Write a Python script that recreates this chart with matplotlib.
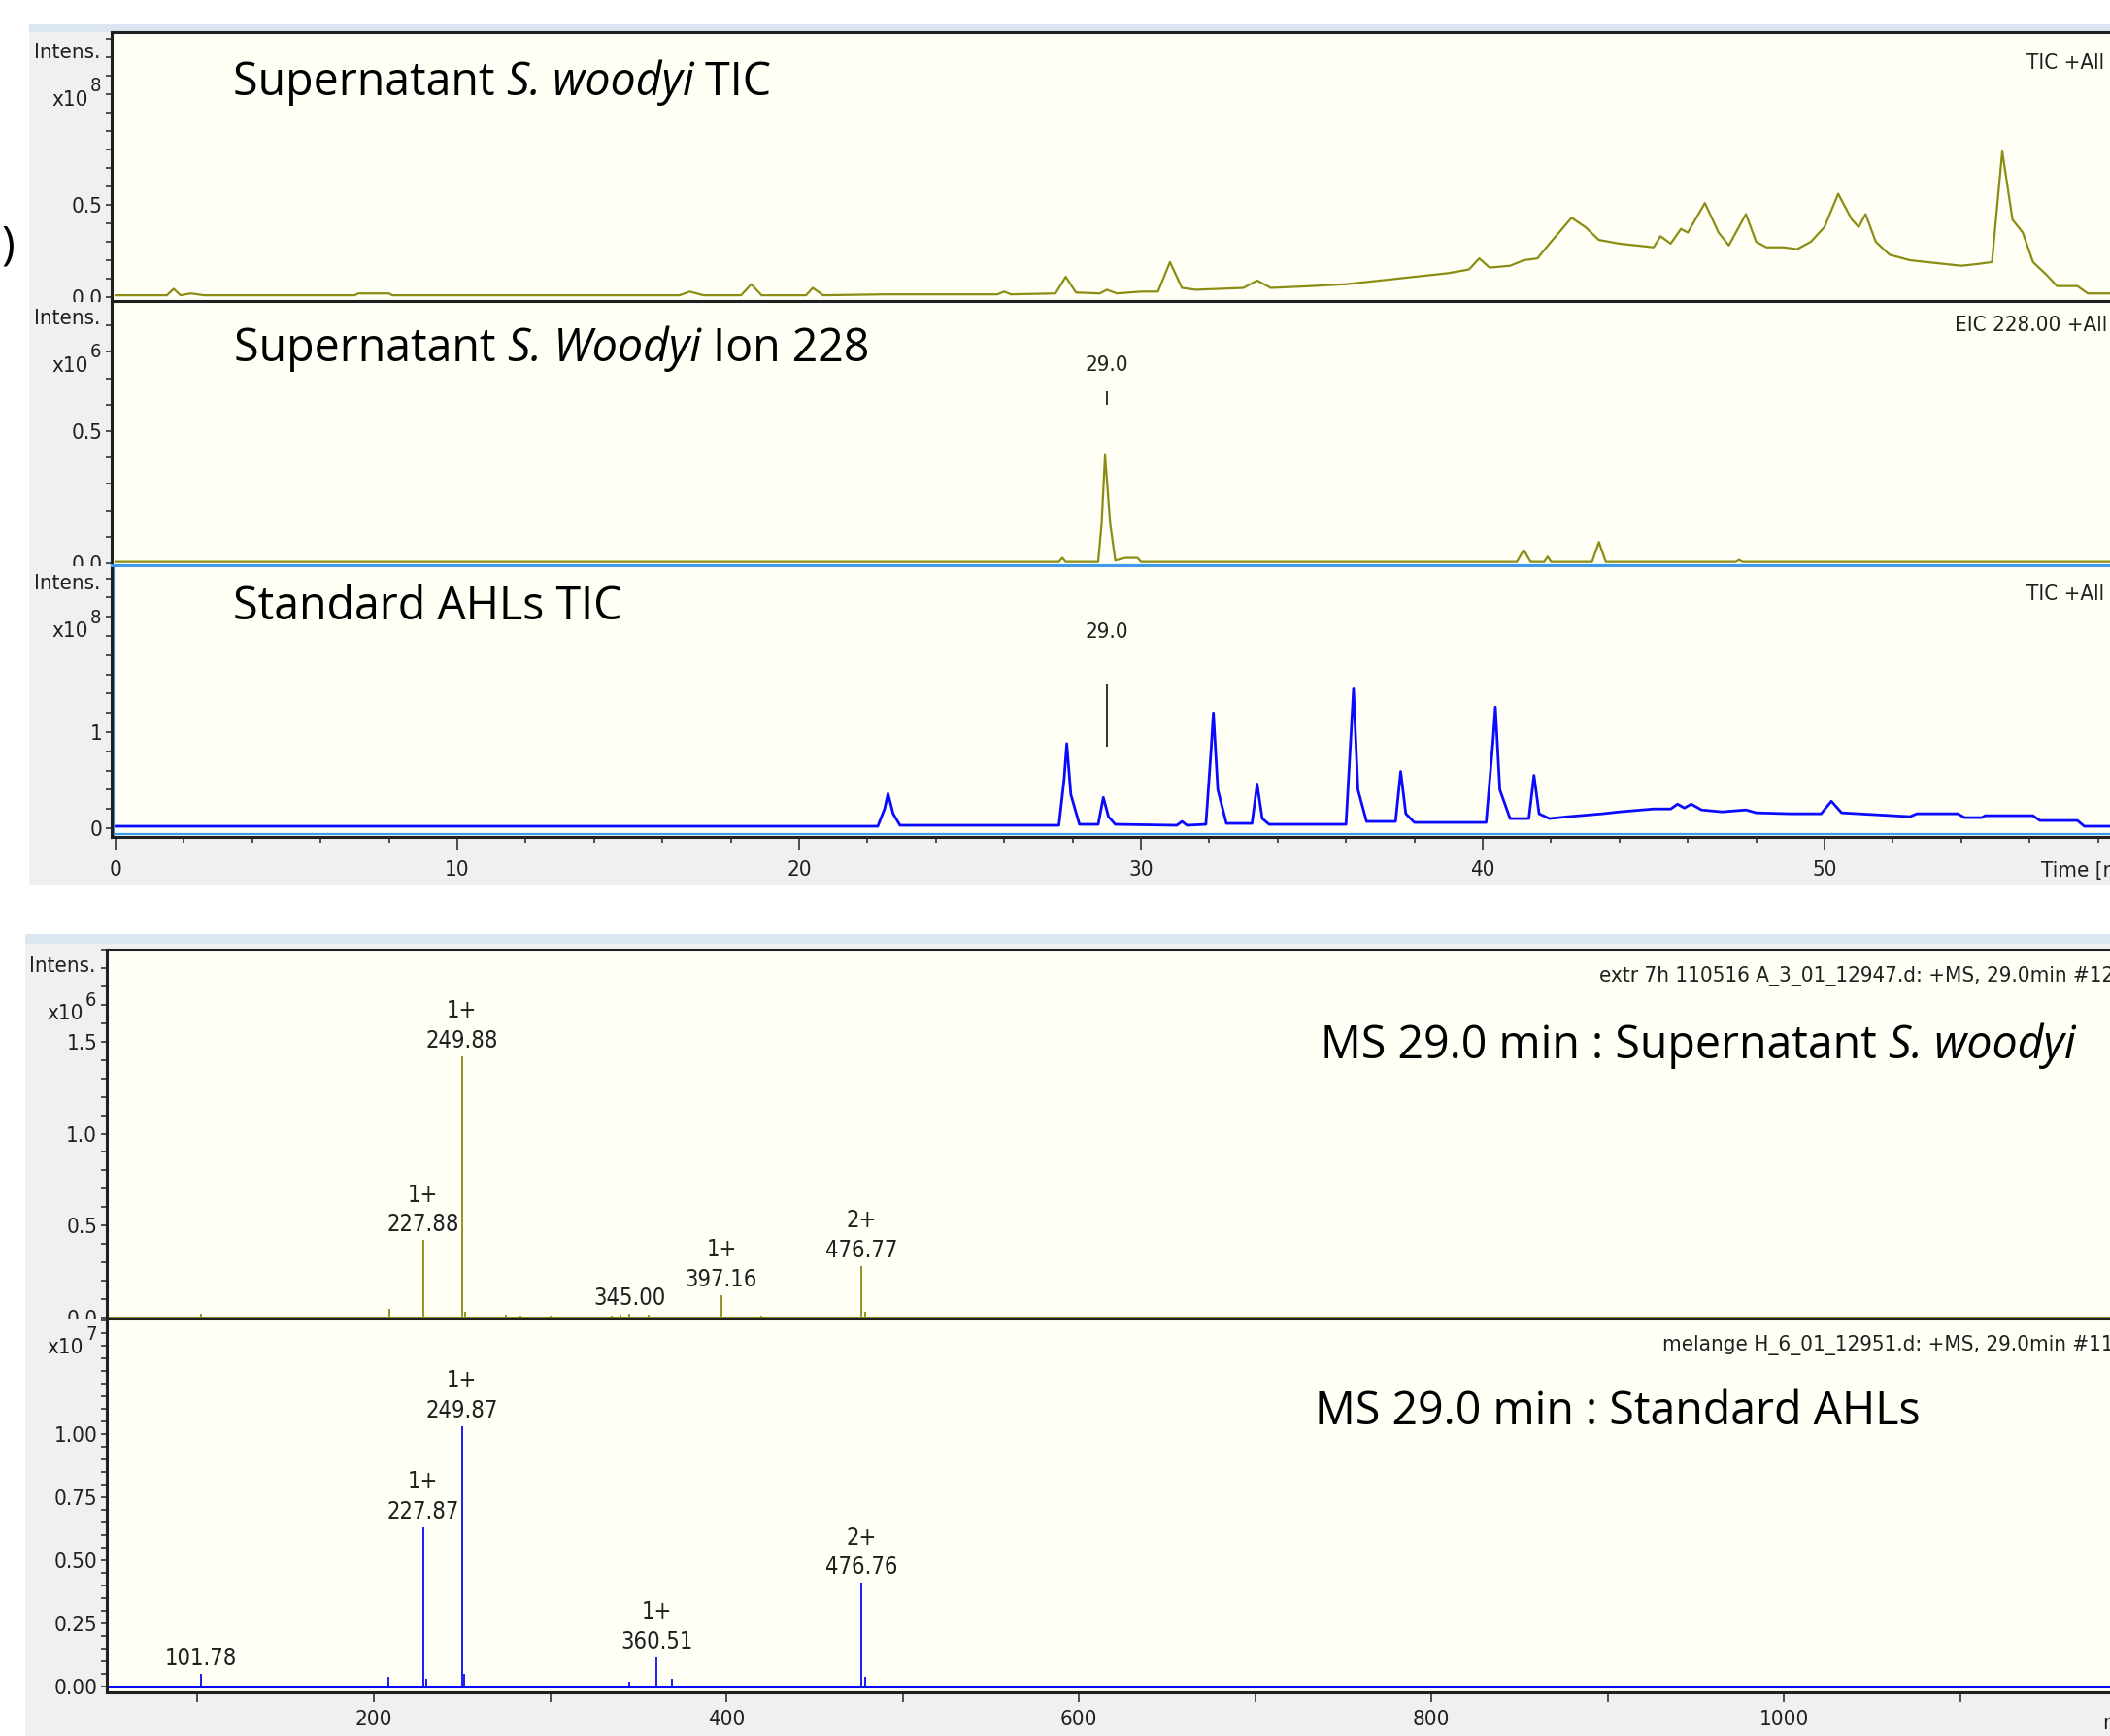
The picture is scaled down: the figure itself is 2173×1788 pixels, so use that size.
import numpy as np
import matplotlib.pyplot as plt
from matplotlib import font_manager as fm
from matplotlib.patches import Rectangle
from matplotlib.ticker import MultipleLocator

# --- chromatograms (time in min) ---
# TIC of the S. woodyi supernatant, x10^8
sup_tic_t = [0, 1.5, 1.7, 1.9, 2.2, 2.6, 7.0, 7.1, 8.0, 8.1,
             16.5, 16.8, 17.2, 18.3, 18.6, 18.9, 20.2, 20.4, 20.7, 22.5,
             25.8, 26.0, 26.2, 27.5, 27.8, 28.1, 28.8, 29.0, 29.3, 30.0,
             30.5, 30.85, 31.2, 31.6, 33.0, 33.4, 33.8, 35.0, 36.0, 37.0,
             38.0, 39.0, 39.6, 39.9, 40.2, 40.8, 41.2, 41.6, 42.0, 42.6,
             43.0, 43.4, 44.0, 44.5, 45.0, 45.2, 45.5, 45.8, 46.0, 46.5,
             46.9, 47.2, 47.7, 48.0, 48.3, 48.8, 49.2, 49.6, 50.0, 50.4,
             50.8, 51.0, 51.2, 51.5, 51.9, 52.5, 53.0, 53.5, 54.0, 54.5,
             54.9, 55.2, 55.5, 55.8, 56.1, 56.5, 56.8, 57.4, 57.7, 60.0]
sup_tic_i = [0.01, 0.01, 0.045, 0.01, 0.02, 0.01, 0.01, 0.02, 0.02, 0.01,
             0.01, 0.03, 0.01, 0.01, 0.07, 0.01, 0.01, 0.05, 0.01, 0.015,
             0.015, 0.03, 0.015, 0.02, 0.11, 0.025, 0.02, 0.04, 0.02, 0.03,
             0.03, 0.19, 0.05, 0.04, 0.05, 0.09, 0.05, 0.06, 0.07, 0.09,
             0.11, 0.13, 0.15, 0.21, 0.16, 0.17, 0.20, 0.21, 0.30, 0.43,
             0.38, 0.31, 0.29, 0.28, 0.27, 0.33, 0.29, 0.37, 0.35, 0.51,
             0.35, 0.28, 0.45, 0.30, 0.27, 0.27, 0.26, 0.30, 0.38, 0.56,
             0.42, 0.38, 0.45, 0.30, 0.23, 0.20, 0.19, 0.18, 0.17, 0.18,
             0.19, 0.79, 0.42, 0.35, 0.19, 0.12, 0.06, 0.06, 0.02, 0.02]

# EIC 228 of the supernatant, x10^6
eic_t = [0, 27.6, 27.7, 27.8, 28.75, 28.85, 28.95, 29.1, 29.25, 29.55,
         29.65, 29.9, 30.0, 41.0, 41.2, 41.4, 41.8, 41.9, 42.0, 43.2,
         43.4, 43.6, 47.4, 47.5, 47.6, 60.0]
eic_i = [0.005, 0.005, 0.02, 0.005, 0.005, 0.15, 0.41, 0.15, 0.01, 0.02,
         0.02, 0.02, 0.005, 0.005, 0.05, 0.005, 0.005, 0.025, 0.005, 0.005,
         0.08, 0.005, 0.005, 0.012, 0.005, 0.005]

# TIC of the standard AHL mix, x10^8
std_tic_t = [0, 22.3, 22.5, 22.6, 22.75, 22.95, 27.6, 27.75, 27.83, 27.95,
             28.2, 28.75, 28.9, 29.05, 29.25, 31.05, 31.2, 31.35, 31.9, 32.05,
             32.12, 32.25, 32.5, 33.25, 33.4, 33.55, 33.75, 36.0, 36.15, 36.22,
             36.35, 36.6, 37.45, 37.6, 37.75, 38.0, 40.1, 40.3, 40.37, 40.5,
             40.8, 41.35, 41.5, 41.65, 41.95, 42.5, 43.5, 44.0, 45.0, 45.5,
             45.7, 45.9, 46.1, 46.4, 47.0, 47.7, 48.0, 49.0, 49.9, 50.2,
             50.5, 51.0, 52.5, 52.7, 53.9, 54.1, 54.6, 54.7, 56.1, 56.3,
             57.4, 57.6, 60.0]
std_tic_i = [0.02, 0.02, 0.20, 0.36, 0.15, 0.03, 0.03, 0.50, 0.88, 0.35,
             0.04, 0.04, 0.32, 0.12, 0.04, 0.03, 0.07, 0.03, 0.04, 0.80,
             1.20, 0.40, 0.05, 0.05, 0.46, 0.10, 0.04, 0.04, 1.00, 1.45,
             0.40, 0.07, 0.07, 0.59, 0.15, 0.06, 0.06, 0.90, 1.26, 0.40,
             0.10, 0.10, 0.55, 0.15, 0.10, 0.12, 0.15, 0.17, 0.20, 0.20,
             0.25, 0.21, 0.25, 0.19, 0.17, 0.19, 0.16, 0.15, 0.15, 0.28,
             0.16, 0.15, 0.12, 0.15, 0.15, 0.11, 0.11, 0.13, 0.13, 0.08,
             0.08, 0.02, 0.02]

# --- MS at 29.0 min ---
ms_sup_mz = [102.0, 209.0, 227.88, 249.88, 252.0, 275.0, 283.0, 300.0,
             335.0, 340.0, 345.00, 356.0, 397.16, 420.0, 476.77, 478.5]
ms_sup_i = [0.02, 0.05, 0.42, 1.42, 0.03, 0.015, 0.01, 0.01,
            0.01, 0.015, 0.02, 0.015, 0.12, 0.01, 0.28, 0.03]   # x10^6
ms_sup_lab = [227.88, 249.88, 345.00, 397.16, 476.77]
ms_sup_z = ['1+', '1+', '', '1+', '2+']

ms_std_mz = [101.78, 208.0, 227.87, 229.5, 249.87, 251.5, 345.0, 360.51,
             369.0, 476.76, 478.5]
ms_std_i = [0.05, 0.04, 0.63, 0.03, 1.03, 0.05, 0.02, 0.115,
            0.03, 0.41, 0.04]   # x10^7
ms_std_lab = [101.78, 227.87, 249.87, 360.51, 476.76]
ms_std_z = ['', '1+', '1+', '1+', '2+']

# narrow font for the instrument labels, if one is installed
narrow = None
for fam in ['Liberation Sans Narrow', 'DejaVu Sans', 'Noto Sans', 'Open Sans', 'Roboto']:
    for f in fm.fontManager.ttflist:
        if (f.name.startswith(fam) and f.stretch in ('condensed', 'semi-condensed')
                and f.style == 'normal' and f.weight in (400, 'normal', 'regular', 'book')):
            narrow = f.name
            break
    if narrow:
        break
if narrow:
    plt.rcParams['font.family'] = [narrow, 'DejaVu Sans']
    plt.rcParams['font.stretch'] = 'condensed'
    FS = 16
else:
    plt.rcParams['font.family'] = ['DejaVu Sans']
    FS = 14

W, H = 2173, 1788
GRAY = '#f0f0f0'
STRIP = '#dce6f2'
CREAM = '#fffff6'
OLIVE = '#8c8c14'
BLUE = '#0a0aff'
HILITE = '#3d9be9'
INK = '#202020'
BIG = ['Open Sans', 'DejaVu Sans']
BFS = 33.5

fig = plt.figure(figsize=(W / 100, H / 100), dpi=100, facecolor='white')
rend = fig.canvas.get_renderer()


def frect(x0, y0, x1, y1, color, z):
    fig.patches.append(Rectangle((x0 / W, 1 - y1 / H), (x1 - x0) / W, (y1 - y0) / H,
                                 transform=fig.transFigure, facecolor=color,
                                 edgecolor='none', zorder=z))


def ftext(x, y, s, **kw):
    kw.setdefault('zorder', 30)
    kw.setdefault('color', INK)
    kw.setdefault('fontsize', FS)
    return fig.text(x / W, 1 - y / H, s, **kw)


def rich(x, y, parts):
    # big captions, upright and italic pieces set one after the other
    for s, style in parts:
        kw = dict(family=BIG, fontsize=BFS, style=style, stretch='normal')
        ftext(x, y, s, color='black', va='baseline', **kw)
        bar = fig.text(0, 0, '|', **kw)
        probe = fig.text(0, 0, s + '|', **kw)
        x += probe.get_window_extent(rend).width - bar.get_window_extent(rend).width
        bar.remove()
        probe.remove()


def panel(x0, y0, x1, y1, z):
    ax = fig.add_axes([x0 / W, 1 - y1 / H, (x1 - x0) / W, (y1 - y0) / H], facecolor=CREAM)
    ax.set_zorder(z)
    for side in ['top', 'bottom', 'left']:
        ax.spines[side].set_linewidth(2.2)
        ax.spines[side].set_color(INK)
    ax.spines['right'].set_visible(False)
    ax.tick_params(axis='both', which='both', direction='out', colors=INK,
                   width=1.1, length=4, labelsize=FS, pad=3)
    ax.tick_params(axis='x', which='both', bottom=False, labelbottom=False)
    return ax


def ylabel(x, y, exp, intens=True):
    if intens:
        ftext(x, y, 'Intens.', ha='right', va='center')
    ftext(x - 12, y + 49, 'x10', ha='right', va='center')
    ftext(x - 10, y + 35, exp, ha='left', va='center', fontsize=FS * 0.9)


# backgrounds
frect(30, 25, W, 912, GRAY, 0.1)
frect(30, 25, W, 33, STRIP, 0.2)
frect(26, 962, W, H, GRAY, 0.1)
frect(26, 962, W, 972, STRIP, 0.2)

# chromatogram panels
px_min = 35.2
tlim = ((115 - 119) / px_min, (2260 - 119) / px_min)

ax1 = panel(115, 33, 2260, 310, 2)
ax1.plot(sup_tic_t, sup_tic_i, color=OLIVE, lw=1.6)
ax1.set_xlim(*tlim)
ax1.set_ylim(-0.021, 1.437)
ax1.set_yticks([0, 0.5], ['0.0', '0.5'])
ax1.yaxis.set_minor_locator(MultipleLocator(0.1))

frect(30, 311, 112, 582, GRAY, 3)
ax2 = panel(115, 310, 2260, 582, 4)
ax2.plot(eic_t, eic_i, color=OLIVE, lw=1.6)
ax2.set_xlim(*tlim)
ax2.set_ylim(-0.0074, 0.993)
ax2.set_yticks([0, 0.5], ['0.0', '0.5'])
ax2.yaxis.set_minor_locator(MultipleLocator(0.1))
ax2.text(29.0, 0.75, '29.0', ha='center', va='center', fontsize=FS, color=INK)
ax2.vlines(29.0, 0.60, 0.65, color=INK, lw=1.3)

frect(30, 583, 112, 862, GRAY, 5)
ax3 = panel(115, 582, 2260, 862, 6)
ax3.plot(std_tic_t, std_tic_i, color=BLUE, lw=2.0)
ax3.set_xlim(*tlim)
ax3.set_ylim(-0.091, 2.737)
ax3.set_yticks([0, 1], ['0', '1'])
ax3.yaxis.set_minor_locator(MultipleLocator(0.2))
ax3.spines['top'].set_color(HILITE)
ax3.axvline(-0.045, color=HILITE, lw=1.6)
ax3.axhline(-0.06, color=HILITE, lw=1.6)
ax3.text(29.0, 2.04, '29.0', ha='center', va='center', fontsize=FS, color=INK)
ax3.vlines(29.0, 0.85, 1.5, color=INK, lw=1.3)
ax3.tick_params(axis='x', which='both', bottom=True, labelbottom=True, pad=8)
ax3.tick_params(axis='x', which='major', length=9)
ax3.tick_params(axis='x', which='minor', length=4.5)
ax3.xaxis.set_major_locator(MultipleLocator(10))
ax3.xaxis.set_minor_locator(MultipleLocator(2))

ylabel(103, 54, '8')
ylabel(103, 328, '6')
ylabel(103, 601, '8')
ftext(2102, 897, 'Time [min]', ha='left', va='center')

rich(240, 98, [('Supernatant ', 'normal'), ('S. woodyi', 'italic'), (' TIC', 'normal')])
rich(241, 372, [('Supernatant ', 'normal'), ('S. Woodyi', 'italic'), (' Ion 228', 'normal')])
rich(240, 638, [('Standard AHLs TIC', 'normal')])
ftext(2, 254, ')', family=BIG, fontsize=BFS, stretch='normal', color='black', va='center')

ftext(2087, 65, 'TIC +All MS', ha='left', va='center')
ftext(2013, 335, 'EIC 228.00 +All MS', ha='left', va='center')
ftext(2087, 612, 'TIC +All MS', ha='left', va='center')

# MS panels
px_mz = 1.8155
mzlim = (200 - (385 - 110) / px_mz, 200 + (2260 - 385) / px_mz)

ax4 = panel(110, 978, 2260, 1358, 8)
ax4.vlines(ms_sup_mz, 0, ms_sup_i, color=OLIVE, lw=1.3)
ax4.axhline(0, color=OLIVE, lw=2.2)
ax4.set_xlim(*mzlim)
ax4.set_ylim(-0.005, 2.0)
ax4.set_yticks([0, 0.5, 1.0, 1.5], ['0.0', '0.5', '1.0', '1.5'])
ax4.yaxis.set_minor_locator(MultipleLocator(0.1))
for mz, z in zip(ms_sup_lab, ms_sup_z):
    val = ms_sup_i[ms_sup_mz.index(mz)]
    txt = f'{z}\n{mz:.2f}' if z else f'{mz:.2f}'
    ax4.annotate(txt, (mz, val), xytext=(0, 3), textcoords='offset points',
                 ha='center', va='bottom', fontsize=FS + 1, linespacing=1.35, color=INK)

frect(26, 1359, 107, 1743, GRAY, 9)
ax5 = panel(110, 1358, 2260, 1743, 10)
ax5.vlines(ms_std_mz, 0, ms_std_i, color=BLUE, lw=1.3)
ax5.axhline(0, color=BLUE, lw=2.2)
ax5.set_xlim(*mzlim)
ax5.set_ylim(-0.023, 1.458)
ax5.set_yticks([0, 0.25, 0.5, 0.75, 1.0], ['0.00', '0.25', '0.50', '0.75', '1.00'])
ax5.yaxis.set_minor_locator(MultipleLocator(0.05))
for mz, z in zip(ms_std_lab, ms_std_z):
    val = ms_std_i[ms_std_mz.index(mz)]
    txt = f'{z}\n{mz:.2f}' if z else f'{mz:.2f}'
    ax5.annotate(txt, (mz, val), xytext=(0, 3), textcoords='offset points',
                 ha='center', va='bottom', fontsize=FS + 1, linespacing=1.35, color=INK)
ax5.tick_params(axis='x', which='both', bottom=True, length=7, pad=6)
ax5.tick_params(axis='x', which='major', labelbottom=True)
ax5.xaxis.set_major_locator(MultipleLocator(200))
ax5.xaxis.set_minor_locator(MultipleLocator(100))

ylabel(98, 995, '6')
ylabel(98, 1339, '7', intens=False)
ftext(2165, 1774, 'm/z', ha='left', va='center')

rich(1360, 1090, [('MS 29.0 min : Supernatant ', 'normal'), ('S. woodyi', 'italic')])
rich(1354, 1467, [('MS 29.0 min : Standard AHLs', 'normal')])
ftext(W + 4, 1006, 'extr 7h 110516 A_3_01_12947.d: +MS, 29.0min #12', ha='right', va='center')
ftext(W + 4, 1386, 'melange H_6_01_12951.d: +MS, 29.0min #11', ha='right', va='center')

fig.savefig('out.png', dpi=100, facecolor='white')
